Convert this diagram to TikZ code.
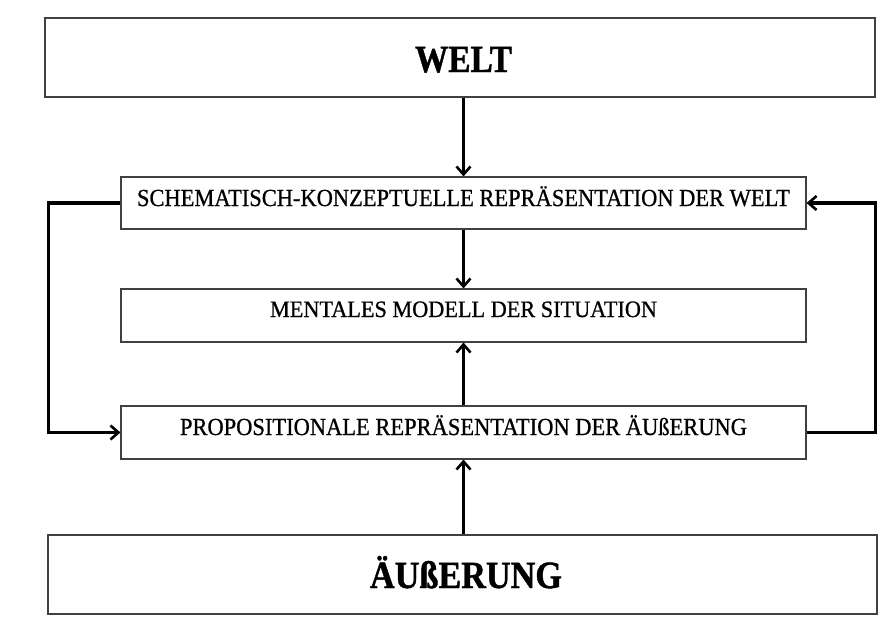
\documentclass[tikz,border=0pt]{standalone}
\usepackage{fontspec}
\usepackage{graphicx}
\setmainfont{Liberation Serif}
\newfontfamily\boxfont[FakeBold=0.8]{Liberation Serif}
\newfontfamily\headfont[FakeBold=1.2]{Liberation Serif Bold}
\usetikzlibrary{arrows.meta}
% set a label at its natural height, stretched or squeezed to a given width
\newcommand{\fitwidth}[2]{\resizebox{#1}{\height}{#2}}
\begin{document}
\begin{tikzpicture}[x=1pt,y=-1pt,
  box/.style={draw=black!75,line width=1.1pt,rectangle,inner sep=0pt},
  small/.style={anchor=base,inner sep=0pt,font=\fontsize{24.5}{26}\boxfont},
  big/.style={anchor=base,inner sep=0pt,font=\fontsize{38.5}{40}\headfont},
  arr/.style={line width=3.2pt,-{Straight Barb[length=8pt,width=14pt,line width=2.6pt]}}]
\useasboundingbox[fill=white] (0,0) rectangle (880,621);

% boxes
\node[box,minimum width=830pt,minimum height=79pt] (welt) at (460,57.5) {};
\node[box,minimum width=685pt,minimum height=52pt] (schem) at (463.5,203) {};
\node[box,minimum width=685pt,minimum height=53pt] (ment) at (463.5,315.5) {};
\node[box,minimum width=685pt,minimum height=53pt] (prop) at (463.5,432.5) {};
\node[box,minimum width=829pt,minimum height=79pt] (aeus) at (462.5,574.5) {};

% labels
\node[big] (weltT) at (463.5,72) {\fitwidth{97pt}{WELT}};
\node[small] (schemT) at (463.5,206) {\fitwidth{653pt}{SCHEMATISCH-KONZEPTUELLE REPRÄSENTATION DER WELT}};
\node[small,font=\fontsize{23.5}{25}\boxfont] (mentT) at (463.5,317) {\fitwidth{387pt}{MENTALES MODELL DER SITUATION}};
\node[small] (propT) at (463.5,435) {\fitwidth{567pt}{PROPOSITIONALE REPRÄSENTATION DER ÄUßERUNG}};
\node[big] (aeusT) at (466,588) {\fitwidth{192pt}{ÄUßERUNG}};

% connectors
\draw[arr] (schem.north |- welt.south) -- (schem.north);
\draw[arr] (schem.south) -- (ment.north);
\draw[arr] (prop.north) -- (ment.south);
\draw[arr] (aeus.north -| prop.south) -- (prop.south);
\draw[arr] (schem.west) -- ++(-72,0) |- (prop.west);
\draw[arr] (prop.east) -- ++(69,0) |- (schem.east);
\end{tikzpicture}
\end{document}
